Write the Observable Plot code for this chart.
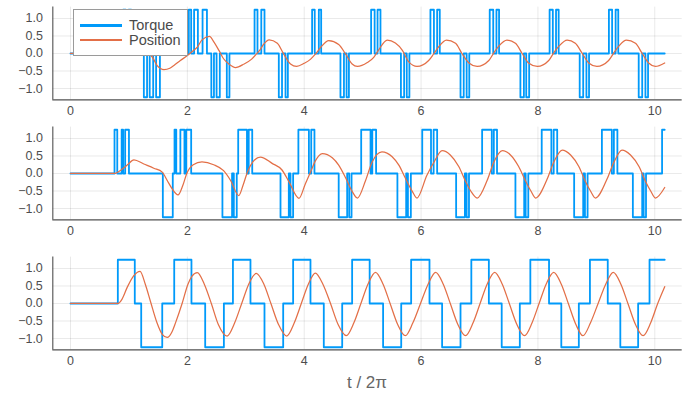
<!DOCTYPE html>
<html>
<head>
<meta charset="utf-8">
<script src="https://cdn.jsdelivr.net/npm/d3@7"></script>
<script src="https://cdn.jsdelivr.net/npm/@observablehq/plot@0.6"></script>
<style>
  body { margin: 0; background: #fff; }
  #chart { position: relative; width: 698px; height: 393px; overflow: hidden; background: #fff;
           font-family: "Liberation Sans", Arial, sans-serif; }
  #chart svg { position: absolute; left: 0; }
  .legend { position: absolute; left: 73px; top: 9px; width: 115px; height: 47px; box-sizing: border-box;
            border: 1px solid #9a9a9a; background: #fff; z-index: 5; }
  .lg-line { position: absolute; left: 80px; width: 42px; height: 2.6px; z-index: 6; }
  .lg-text { position: absolute; left: 129px; font-size: 14.5px; line-height: 1; color: #4a4a4a; z-index: 6;
             transform: translateY(-50%); }
  .xlabel { position: absolute; top: 383px; left: 367px; transform: translate(-50%, -50%);
            font-size: 17px; color: #666; white-space: pre; }
</style>
</head>
<body>
<div id="chart"></div>
<script>
// ---------- data ----------
const seriesNames = ["Torque", "Position"];
const xTicks = [0, 2, 4, 6, 8, 10];
const yTicks = [-1, -0.5, 0, 0.5, 1];
const xLabel = "t / 2π";

// Panel 1
const p1TorqueT = [0,0.90,0.945,0.995,1.04,1.255,1.31,1.355,1.415,1.465,1.53,2.025,2.065,2.115,2.18,2.26,2.335,2.41,2.455,2.50,2.555,2.675,2.72,
  3.15,3.20,3.265,3.32,3.565,3.62,3.68,3.72,
  4.135,4.18,4.25,4.29,4.62,4.68,4.725,4.765,
  5.145,5.205,5.255,5.305,5.655,5.71,5.755,5.80,
  6.16,6.22,6.275,6.32,6.675,6.73,6.78,6.825,
  7.175,7.235,7.29,7.335,7.70,7.76,7.80,7.85,
  8.20,8.255,8.31,8.355,8.715,8.775,8.83,8.875,
  9.215,9.27,9.33,9.375,9.725,9.785,9.84,9.885,
  10.17];
const p1TorqueV = [0,1.25,0,1.25,0,-1.25,0,-1.25,0,-1.25,0,1.25,0,1.25,0,1.25,0,-1.25,0,-1.25,0,-1.25,0,
  1.25,0,1.25,0,-1.25,0,-1.25,0,
  1.25,0,1.25,0,-1.25,0,-1.25,0,
  1.25,0,1.25,0,-1.25,0,-1.25,0,
  1.25,0,1.25,0,-1.25,0,-1.25,0,
  1.25,0,1.25,0,-1.25,0,-1.25,0,
  1.25,0,1.25,0,-1.25,0,-1.25,0,
  1.25,0,1.25,0,-1.25,0,-1.25,0,
  0];
const p1PosT = [0,0.90,1.0,1.1,1.2,1.3,1.40,1.48,1.60,1.70,1.77,1.88,2.0,2.10,2.17,2.25,2.38,2.45,2.54,2.62,2.71,2.825,2.97,3.10,3.18,3.25,3.30,3.40,3.54,3.65,3.765,3.87,4.0,4.11,4.19,4.28,4.42,4.59,4.71,4.82,4.91,5.08,5.19,5.28,5.42,5.56,5.68,5.79,5.93,6.13,6.22,6.30,6.435,6.59,6.70,6.82,6.96,7.16,7.245,7.33,7.47,7.615,7.73,7.84,7.99,8.185,8.27,8.36,8.50,8.64,8.76,8.87,9.01,9.21,9.30,9.385,9.515,9.67,9.785,9.90,10.01,10.17];
const p1PosV = [0,0,0.08,0.15,0.1,0.02,-0.10,-0.34,-0.46,-0.42,-0.34,-0.2,-0.06,0.08,0.18,0.39,0.49,0.34,0.09,-0.15,-0.30,-0.40,-0.30,-0.16,-0.02,0.12,0.25,0.39,0.29,-0.02,-0.30,-0.37,-0.28,-0.16,-0.02,0.17,0.37,0.26,-0.02,-0.30,-0.37,-0.26,-0.11,0.12,0.38,0.30,0.09,-0.24,-0.37,-0.20,0,0.19,0.38,0.29,0,-0.27,-0.37,-0.2,0.02,0.21,0.38,0.29,0,-0.27,-0.37,-0.2,0.02,0.21,0.38,0.29,0,-0.27,-0.37,-0.2,0.02,0.21,0.38,0.29,0,-0.28,-0.37,-0.27];

// Panel 2
const p2TorqueT = [0,0.753,0.80,0.875,0.90,0.935,1.0,1.58,1.75,1.78,1.81,1.88,1.95,1.98,2.065,2.60,2.765,2.795,2.845,2.87,3.02,3.05,3.11,
  3.594,3.736,3.765,3.81,3.90,4.08,4.12,4.175,
  4.59,4.735,4.77,4.81,4.975,5.135,5.165,5.23,
  5.595,5.745,5.775,5.825,6.02,6.17,6.215,6.275,
  6.60,6.75,6.78,6.82,7.045,7.21,7.245,7.30,
  7.615,7.765,7.79,7.835,8.065,8.23,8.27,8.33,
  8.62,8.775,8.805,8.85,9.095,9.265,9.30,9.36,
  9.625,9.785,9.81,9.85,10.125,10.17];
const p2TorqueV = [0,1.25,0,1.25,0,1.25,0,-1.25,0,1.25,0,1.25,0,1.25,0,-1.25,0,-1.25,0,1.25,0,1.25,0,
  -1.25,0,-1.25,0,1.25,0,1.25,0,
  -1.25,0,-1.25,0,1.25,0,1.25,0,
  -1.25,0,-1.25,0,1.25,0,1.25,0,
  -1.25,0,-1.25,0,1.25,0,1.25,0,
  -1.25,0,-1.25,0,1.25,0,1.25,0,
  -1.25,0,-1.25,0,1.25,0,1.25,0,
  -1.25,0,-1.25,0,1.25,1.25];
const p2PosT = [0,0.753,0.80,0.88,0.97,1.085,1.255,1.425,1.57,1.655,1.74,1.84,1.92,1.99,2.1,2.25,2.45,2.62,2.74,2.88,2.95,3.03,3.12,3.25,3.45,3.62,3.74,3.91,4.02,4.11,4.19,4.31,4.48,4.59,4.71,4.82,4.91,5.05,5.16,5.33,5.505,5.62,5.73,5.85,5.93,6.10,6.22,6.36,6.50,6.645,6.76,6.85,6.96,7.13,7.245,7.39,7.53,7.67,7.79,7.88,7.96,8.16,8.27,8.415,8.56,8.70,8.81,8.90,8.985,9.185,9.30,9.44,9.585,9.73,9.84,9.93,10.01,10.17];
const p2PosV = [0,0,0.03,0.12,0.24,0.39,0.27,0.15,0.04,-0.2,-0.44,-0.61,-0.35,0,0.25,0.33,0.25,0.08,-0.2,-0.63,-0.35,0.05,0.33,0.47,0.29,0.10,-0.24,-0.71,-0.29,0.05,0.36,0.57,0.45,0.24,-0.13,-0.51,-0.70,-0.2,0.32,0.62,0.48,0.24,-0.13,-0.51,-0.70,-0.05,0.32,0.65,0.53,0.20,-0.22,-0.5,-0.70,-0.2,0.32,0.65,0.53,0.20,-0.22,-0.5,-0.70,-0.15,0.32,0.67,0.53,0.20,-0.22,-0.5,-0.70,-0.15,0.32,0.67,0.53,0.20,-0.22,-0.5,-0.70,-0.40];

// Panel 3
const p3TorqueT = [0,0.81,1.10,1.21,1.57,1.775,2.07,2.305,2.625,2.78,3.08,3.32,3.64,3.81,4.107,4.335,4.65,4.82,5.12,5.35,5.66,5.83,6.144,6.36,6.675,6.86,7.16,7.38,7.69,7.87,8.19,8.40,8.70,8.89,9.195,9.41,9.715,9.91,10.17];
const p3TorqueV = [0,1.25,0,-1.25,0,1.25,0,-1.25,0,1.25,0,-1.25,0,1.25,0,-1.25,0,1.25,0,-1.25,0,1.25,0,-1.25,0,1.25,0,-1.25,0,1.25,0,-1.25,0,1.25,0,-1.25,0,1.25,1.25];
const p3PosT = [0,0.81,0.88,0.97,1.08,1.19,1.28,1.37,1.48,1.57,1.655,1.74,1.80,1.91,2.01,2.08,2.17,2.29,2.41,2.53,2.68,2.81,2.93,3.05,3.18,3.31,3.43,3.56,3.70,3.83,3.95,4.07,4.19,4.32,4.45,4.58,4.72,4.85,4.97,5.09,5.22,5.35,5.47,5.60,5.73,5.86,5.99,6.12,6.25,6.38,6.50,6.63,6.76,6.89,7.01,7.13,7.26,7.39,7.51,7.64,7.77,7.90,8.02,8.14,8.27,8.40,8.52,8.65,8.77,8.90,9.03,9.16,9.29,9.42,9.54,9.67,9.80,9.93,10.05,10.17];
const p3PosV = [0,0,0.12,0.46,0.79,0.92,0.55,0.05,-0.55,-0.88,-0.97,-0.80,-0.54,0,0.55,0.78,0.88,0.55,0,-0.6,-0.93,-0.55,0,0.55,0.86,0.55,0,-0.6,-0.93,-0.55,0,0.55,0.87,0.55,0,-0.6,-0.92,-0.55,0,0.55,0.89,0.55,0,-0.6,-0.92,-0.55,0,0.55,0.89,0.55,0,-0.6,-0.92,-0.55,0,0.55,0.89,0.55,0,-0.6,-0.92,-0.55,0,0.55,0.89,0.55,0,-0.6,-0.92,-0.55,0,0.55,0.89,0.55,0,-0.6,-0.92,-0.55,0,0.48];

// ---------- drawing ----------
const colors = ["#009AFA", "#E36F47"];
const xDomain = [-0.303, 10.469];
const yDomain = [-1.325, 1.325];
const fmtY = d => d.toFixed(1).replace("-", "\u2212");
const chart = document.getElementById("chart");

function zip(ts, vs) { return ts.map((t, i) => ({t, v: vs[i]})); }

function panel(tT, tV, pT, pV, top, marginBottom) {
  const mt = 6.6, inner = 92.8;
  const svg = Plot.plot({
    width: 698, height: mt + inner + marginBottom,
    marginTop: mt, marginBottom, marginLeft: 52.3, marginRight: 16.3,
    style: {background: "transparent", fontFamily: "'Liberation Sans', Arial, sans-serif"},
    x: {domain: xDomain, axis: null, label: null},
    y: {domain: yDomain, axis: null, label: null},
    marks: [
      Plot.gridX(xTicks, {stroke: "#000", strokeOpacity: 0.09, strokeWidth: 1}),
      Plot.gridY(yTicks, {stroke: "#000", strokeOpacity: 0.09, strokeWidth: 1}),
      Plot.line(zip(tT, tV), {x: "t", y: "v", curve: "step-after", stroke: colors[0], strokeWidth: 1.8}),
      Plot.line(zip(pT, pV), {x: "t", y: "v", curve: "monotone-x", stroke: colors[1], strokeWidth: 1.25}),
      Plot.ruleX([xDomain[0]], {stroke: "#505050", strokeWidth: 1.1}),
      Plot.ruleY([yDomain[0]], {stroke: "#505050", strokeWidth: 1.1}),
      Plot.axisX({ticks: xTicks, tickSize: 0, tickPadding: 6, fontSize: 12.5, color: "#4d4d4d", tickFormat: d => String(d), label: null}),
      Plot.axisY({ticks: yTicks, tickSize: 0, tickPadding: 10, fontSize: 12.5, color: "#4d4d4d", tickFormat: fmtY, label: null})
    ]
  });
  svg.style.top = top + "px";
  chart.appendChild(svg);
}

panel(p1TorqueT, p1TorqueV, p1PosT, p1PosV, 0, 24);
panel(p2TorqueT, p2TorqueV, p2PosT, p2PosV, 120, 24);
panel(p3TorqueT, p3TorqueV, p3PosT, p3PosV, 249.7, 393 - 249.7 - 6.6 - 92.8);

// legend
const legend = document.createElement("div");
legend.className = "legend";
chart.appendChild(legend);
[25.3, 40].forEach((y, i) => {
  const ln = document.createElement("div");
  ln.className = "lg-line";
  ln.style.top = (y - 1.3) + "px";
  ln.style.background = colors[i];
  chart.appendChild(ln);
  const tx = document.createElement("div");
  tx.className = "lg-text";
  tx.style.top = y + "px";
  tx.textContent = seriesNames[i];
  chart.appendChild(tx);
});

// x label
const xl = document.createElement("div");
xl.className = "xlabel";
xl.textContent = xLabel;
chart.appendChild(xl);
</script>
</body>
</html>
